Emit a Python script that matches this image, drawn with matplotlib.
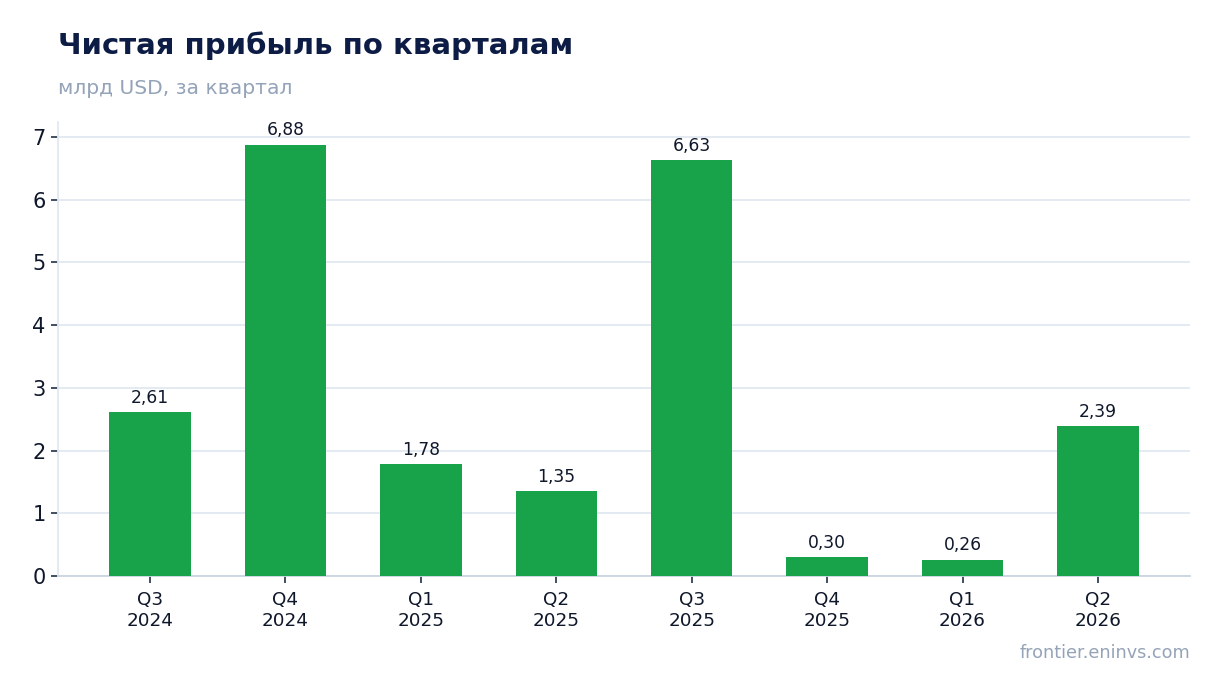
import matplotlib
matplotlib.use("Agg")
import matplotlib.pyplot as plt

categories = ["Q3\n2024", "Q4\n2024", "Q1\n2025", "Q2\n2025", "Q3\n2025", "Q4\n2025", "Q1\n2026", "Q2\n2026"]
values = [2.61, 6.88, 1.78, 1.35, 6.63, 0.30, 0.26, 2.39]
yticks = [0, 1, 2, 3, 4, 5, 6, 7]

title = "Чистая прибыль по кварталам"
subtitle = "млрд USD, за квартал"
source = "frontier.eninvs.com"

W, H = 1220, 693
fig = plt.figure(figsize=(W / 100, H / 100), dpi=100)
plt.rcParams['font.family'] = ['DejaVu Sans']

left, right = 58 / W, 1190 / W
bottom, top = 1 - 576 / H, 1 - 122 / H
ax = fig.add_axes([left, bottom, right - left, top - bottom])

x = list(range(len(categories)))
bars = ax.bar(x, values, width=0.6, color="#18a34a", zorder=3)
ax.set_ylim(0, 7.24)
ax.set_xticks(x)
ax.set_xticklabels(categories, fontsize=13.2, color="#0f172a")
ax.set_yticks(yticks)
ax.set_yticklabels([str(t) for t in yticks], fontsize=15, color="#0f172a")

ax.grid(axis="y", color="#e2e8f0", linewidth=1.3, zorder=0)
ax.set_axisbelow(True)
for s in ["top", "right"]:
    ax.spines[s].set_visible(False)
ax.spines["left"].set_color("#e2e8f0")
ax.spines["left"].set_linewidth(1.3)
ax.spines["bottom"].set_color("#cbd5e1")
ax.spines["bottom"].set_linewidth(1.3)
ax.tick_params(axis="both", colors="#334155", length=5, width=1.3)
ax.tick_params(axis="x", labelcolor="#0f172a", pad=6)
ax.tick_params(axis="y", labelcolor="#0f172a", pad=4)

for xi, v in zip(x, values):
    ax.annotate(f"{v:.2f}".replace(".", ","), (xi, v), xytext=(0, 4),
                textcoords="offset points", ha="center", va="bottom",
                fontsize=12.3, color="#0f172a")

fig.text(58 / W, 1 - 54 / H, title, fontsize=21, fontweight="bold",
         color="#0c1c45", ha="left", va="baseline")
fig.text(58 / W, 1 - 94 / H, subtitle, fontsize=14.6, color="#94a3b8",
         ha="left", va="baseline")
fig.text(1190 / W, 1 - 658 / H, source, fontsize=12.7, color="#94a3b8",
         ha="right", va="baseline")

fig.savefig("out.png", dpi=100, facecolor="white")
